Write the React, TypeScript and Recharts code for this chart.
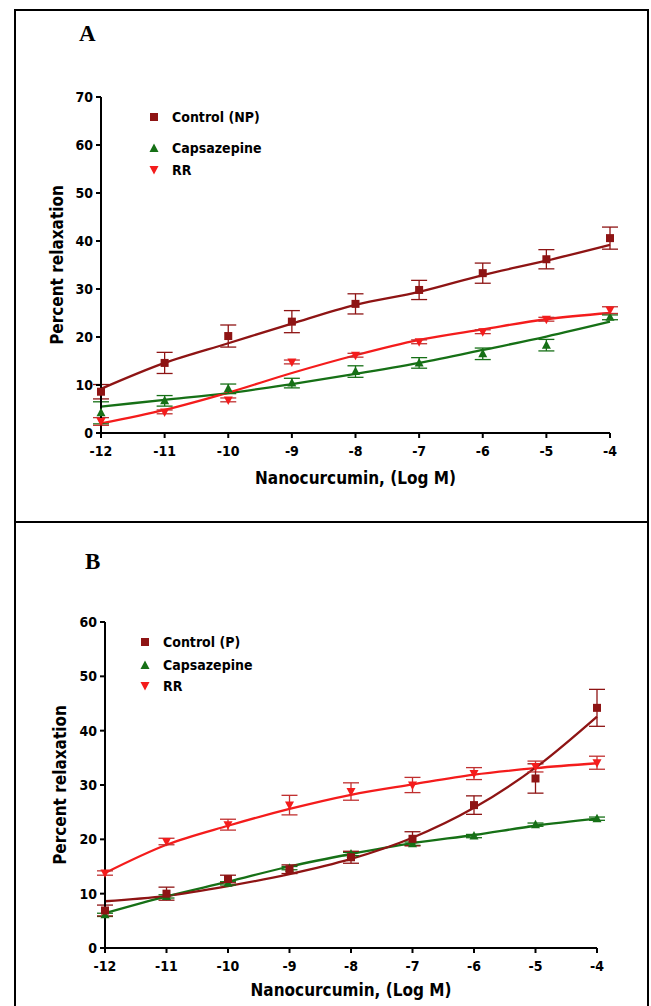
import React from "react";
import { ComposedChart, Line, Scatter, ErrorBar, XAxis, YAxis, Label } from "recharts";

// log molar concentration of nanocurcumin
const logDose = [-12, -11, -10, -9, -8, -7, -6, -5, -4];
const xTicks = [-12, -11, -10, -9, -8, -7, -6, -5, -4];
const yTicksA = [0, 10, 20, 30, 40, 50, 60, 70];
const yTicksB = [0, 10, 20, 30, 40, 50, 60];

const namesA = ["Control (NP)", "Capsazepine", "RR"];
const namesB = ["Control (P)", "Capsazepine", "RR"];

// Panel A - mean, SEM and fitted curve
const ctrlNPMean = [8.6, 14.6, 20.2, 23.2, 26.9, 29.8, 33.3, 36.2, 40.6];
const ctrlNPSem = [1.5, 2.2, 2.3, 2.3, 2.1, 2.0, 2.1, 2.0, 2.3];
const ctrlNPFit = [9.2, 14.6, 18.7, 22.8, 26.7, 29.4, 32.9, 35.9, 39.2];

const capsAMean = [4.2, 6.7, 9.2, 10.4, 12.8, 14.6, 16.5, 18.3, 24.1];
const capsASem = [2.3, 1.1, 1.0, 1.0, 1.2, 1.1, 1.2, 1.2, 0.5];
const capsAFit = [5.5, 6.9, 8.3, 10.2, 12.3, 14.6, 17.3, 20.1, 23.2];

const rrAMean = [2.4, 4.4, 6.9, 14.8, 16.2, 19.0, 21.1, 23.7, 25.6];
const rrASem = [0.8, 0.4, 0.4, 0.4, 0.4, 0.4, 0.4, 0.4, 0.7];
const rrAFit = [2.0, 4.8, 8.4, 12.5, 16.2, 19.4, 21.6, 23.7, 25.0];

// Panel B
const ctrlPMean = [6.9, 10.0, 12.7, 14.5, 16.7, 20.1, 26.3, 31.2, 44.2];
const ctrlPSem = [1.0, 1.2, 0.7, 0.8, 1.1, 1.3, 1.7, 2.7, 3.4];
const ctrlPFit = [8.6, 9.6, 11.4, 13.6, 16.4, 20.3, 25.8, 33.2, 42.6];

const capsBMean = [6.1, 9.5, 11.9, 14.7, 17.3, 19.2, 20.6, 22.7, 23.8];
const capsBSem = [0.3, 0.3, 0.3, 0.3, 0.3, 0.3, 0.3, 0.3, 0.3];
const capsBFit = [6.4, 9.5, 12.2, 15.0, 17.3, 19.3, 20.8, 22.5, 23.8];

const rrBMean = [13.8, 19.6, 22.7, 26.3, 28.8, 30.0, 32.1, 33.4, 34.1];
const rrBSem = [0.4, 0.6, 1.0, 1.8, 1.6, 1.4, 1.1, 1.0, 1.2];
const rrBFit = [13.8, 19.0, 22.5, 25.6, 28.2, 30.1, 31.9, 33.1, 34.0];

const CTRL = "#8E1414";
const CAPS = "#167016";
const RR = "#F41C1C";
const RR_ERR = "#C03030";

const SANS = '"DejaVu Sans Condensed", "DejaVu Sans", sans-serif';

const points = (mean: number[], sem: number[]) =>
    logDose.map((x, i) => ({ x, y: mean[i], err: sem[i] }));
const curve = (fit: number[]) => logDose.map((x, i) => ({ x, y: fit[i] }));

const square = (color: string) => (p: any) =>
    <rect x={p.cx - 4} y={p.cy - 4} width={8} height={8} fill={color} />;
const triUp = (color: string) => (p: any) =>
    <polygon points={`${p.cx},${p.cy - 5} ${p.cx + 4.5},${p.cy + 3.5} ${p.cx - 4.5},${p.cy + 3.5}`} fill={color} />;
const triDown = (color: string) => (p: any) =>
    <polygon points={`${p.cx},${p.cy + 5} ${p.cx + 4.5},${p.cy - 3.5} ${p.cx - 4.5},${p.cy - 3.5}`} fill={color} />;

const tickStyle = { fontFamily: SANS, fontWeight: 700, fontSize: 14, fill: "#000" };

const MarkerIcon = ({ kind, color }: { kind: number; color: string }) => (
    <svg width={10} height={10} style={{ position: "absolute", left: -5, top: -5 }}>
        {kind === 0 && <rect x={1} y={1} width={8} height={8} fill={color} />}
        {kind === 1 && <polygon points="5,0.5 9.5,9 0.5,9" fill={color} />}
        {kind === 2 && <polygon points="5,9.5 9.5,1 0.5,1" fill={color} />}
    </svg>
);

const LegendBox = ({ names, markerX, textX, rowY }: { names: string[]; markerX: number; textX: number; rowY: number[] }) => (
    <>
        {names.map((n, i) => (
            <div key={n} style={{ position: "absolute", left: 0, top: rowY[i], width: 300, height: 0 }}>
                <div style={{ position: "absolute", left: markerX, top: 0 }}>
                    <MarkerIcon kind={i} color={[CTRL, CAPS, RR][i]} />
                </div>
                <div style={{
                    position: "absolute", left: textX, top: -9, lineHeight: "18px",
                    fontFamily: SANS, fontWeight: 700, fontSize: 14, whiteSpace: "nowrap"
                }}>{n}</div>
            </div>
        ))}
    </>
);

const yTitle = (x: number) => (props: any) => {
    const vb = props.viewBox;
    const cy = vb.y + vb.height / 2;
    return (
        <text x={x} y={cy} transform={`rotate(-90 ${x} ${cy})`} textAnchor="middle" dominantBaseline="central"
              fontFamily={SANS} fontWeight={700} fontSize={17} fill="#000">Percent relaxation</text>
    );
};
const xTitle = (y: number) => (props: any) => {
    const vb = props.viewBox;
    return (
        <text x={vb.x + vb.width / 2} y={y} textAnchor="middle" dominantBaseline="central"
              fontFamily={SANS} fontWeight={700} fontSize={17} fill="#000">Nanocurcumin, (Log M)</text>
    );
};

type Series = { mean: number[]; sem: number[]; fit: number[] };

const Panel = ({ top, height, margin, yMax, yTicks, ctrl, caps, rr, yTitleX, xTitleY }: {
    top: number; height: number; margin: any; yMax: number; yTicks: number[];
    ctrl: Series; caps: Series; rr: Series; yTitleX: number; xTitleY: number;
}) => (
    <div style={{ position: "absolute", left: 0, top }}>
        <ComposedChart width={651} height={height} margin={margin}>
            <XAxis type="number" dataKey="x" domain={[-12, -4]} ticks={xTicks}
                   stroke="#000" strokeWidth={2} tickSize={5} tickMargin={8} tick={tickStyle} height={30}>
                <Label content={xTitle(xTitleY)} />
            </XAxis>
            <YAxis type="number" dataKey="y" domain={[0, yMax]} ticks={yTicks}
                   stroke="#000" strokeWidth={2} tickSize={5} tickMargin={3} tick={tickStyle} width={30}>
                <Label content={yTitle(yTitleX)} />
            </YAxis>
            <Line data={curve(caps.fit)} dataKey="y" type="monotone" stroke={CAPS} strokeWidth={2.3} dot={false} isAnimationActive={false} />
            <Line data={curve(rr.fit)} dataKey="y" type="monotone" stroke={RR} strokeWidth={2.3} dot={false} isAnimationActive={false} />
            <Line data={curve(ctrl.fit)} dataKey="y" type="monotone" stroke={CTRL} strokeWidth={2.3} dot={false} isAnimationActive={false} />
            <Scatter data={points(caps.mean, caps.sem)} dataKey="y" shape={triUp(CAPS)} isAnimationActive={false}>
                <ErrorBar dataKey="err" direction="y" width={8} stroke={CAPS} strokeWidth={1.3} />
            </Scatter>
            <Scatter data={points(rr.mean, rr.sem)} dataKey="y" shape={triDown(RR)} isAnimationActive={false}>
                <ErrorBar dataKey="err" direction="y" width={8} stroke={RR_ERR} strokeWidth={1.3} />
            </Scatter>
            <Scatter data={points(ctrl.mean, ctrl.sem)} dataKey="y" shape={square(CTRL)} isAnimationActive={false}>
                <ErrorBar dataKey="err" direction="y" width={8} stroke={CTRL} strokeWidth={1.3} />
            </Scatter>
        </ComposedChart>
    </div>
);

const serifLetter = {
    position: "absolute" as const, fontFamily: '"Liberation Serif", "DejaVu Serif", serif',
    fontWeight: 700, fontSize: 23, lineHeight: "24px"
};

const App: React.FC = () => (
    <div style={{ position: "absolute", left: 0, top: 0, width: 651, height: 1006, overflow: "hidden", background: "#fff" }}>
        <div style={{ position: "absolute", left: 14, top: 9, width: 635, height: 514, border: "2px solid #000", boxSizing: "border-box" }} />
        <div style={{ position: "absolute", left: 14, top: 521, width: 635, height: 520, border: "2px solid #000", boxSizing: "border-box" }} />

        <div style={{ ...serifLetter, left: 79, top: 22 }}>A</div>
        <Panel top={60} height={440} margin={{ top: 37, right: 41, bottom: 37, left: 71 }}
               yMax={70} yTicks={yTicksA}
               ctrl={{ mean: ctrlNPMean, sem: ctrlNPSem, fit: ctrlNPFit }}
               caps={{ mean: capsAMean, sem: capsASem, fit: capsAFit }}
               rr={{ mean: rrAMean, sem: rrASem, fit: rrAFit }}
               yTitleX={57} xTitleY={418} />
        <LegendBox names={namesA} markerX={154} textX={172} rowY={[117, 148, 170]} />

        <div style={{ ...serifLetter, left: 85, top: 550 }}>B</div>
        <Panel top={580} height={426} margin={{ top: 42, right: 54, bottom: 28, left: 75 }}
               yMax={60} yTicks={yTicksB}
               ctrl={{ mean: ctrlPMean, sem: ctrlPSem, fit: ctrlPFit }}
               caps={{ mean: capsBMean, sem: capsBSem, fit: capsBFit }}
               rr={{ mean: rrBMean, sem: rrBSem, fit: rrBFit }}
               yTitleX={60} xTitleY={410} />
        <LegendBox names={namesB} markerX={145} textX={163} rowY={[642, 665, 686]} />
    </div>
);

export default App;
